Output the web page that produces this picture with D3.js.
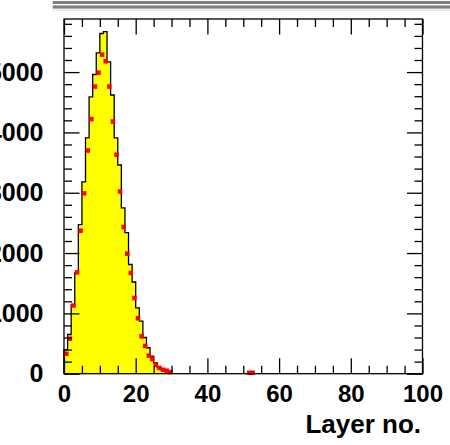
<!DOCTYPE html>
<html>
<head>
<meta charset="utf-8">
<script src="https://cdn.jsdelivr.net/npm/d3@7"></script>
<style>
  body { margin: 0; background: #fff; }
  svg { display: block; }
  .lab text { font-family: "Liberation Sans", Arial, sans-serif; font-weight: bold; fill: #000; }
</style>
</head>
<body>
<div class="wrapper"><svg width="450" height="445"></svg></div>
<script>
// histogram: one entry per bin, bins 0..29 (bins 30..99 are empty)
var histBins   = [0,1,2,3,4,5,6,7,8,9,10,11,12,13,14,15,16,17,18,19,20,21,22,23,24,25,26,27,28,29];
var histCounts = [400,650,1140,1670,2470,3180,3910,4590,4960,5320,5640,5670,5170,4620,3910,
                  3460,2750,2340,1810,1520,1090,870,600,430,290,180,100,65,40,25];

// red points (non-empty bins only)
var dataBins   = [0,1,2,3,4,5,6,7,8,9,10,11,12,13,14,15,16,17,18,19,20,21,22,23,24,25,26,27,28,29,51,52];
var dataCounts = [330,580,1130,1680,2370,2990,3700,4220,4760,4990,5290,5180,4760,4180,3630,
                  3020,2430,1990,1670,1255,920,620,460,300,245,150,95,66,50,28,15,15];

var xTickLabels = [0,20,40,60,80,100];
var yTickLabels = [0,1000,2000,3000,4000,5000];
var xTitle = "Layer no.";

/* frame (window.top is taken, so frame* names) */
var frameL = 64, frameR = 422.5, frameT = 19, frameB = 373.7;
var xMin = 0, xMax = 100, binWidth = 1, yMax = 5880;

var svg = d3.select('.wrapper').select('svg');

var x = d3.scaleLinear().domain([xMin, xMax]).range([frameL, frameR]);
var y = d3.scaleLinear().domain([0, yMax]).range([frameB, frameT]);

/* grey lines at the top (bottom of the box above) */
svg.append('rect').attr('x', 52.7).attr('y', 1).attr('width', 400).attr('height', 3).attr('fill', '#808080');
svg.append('rect').attr('x', 52.7).attr('y', 5.4).attr('width', 400).attr('height', 3.2).attr('fill', '#808080');
svg.append('rect').attr('x', 52.7).attr('y', 9.6).attr('width', 400).attr('height', 1).attr('fill', '#dadada');

/* histogram */
var pts = [[xMin, 0]];
for (var i = 0; i < histBins.length; i++) {
    pts.push([xMin + histBins[i] * binWidth, histCounts[i]]);
}
pts.push([xMin + (histBins[histBins.length - 1] + 1) * binWidth, 0]);

var area = d3.area().curve(d3.curveStepAfter)
    .x(function(d) { return x(d[0]); })
    .y0(y(0))
    .y1(function(d) { return y(d[1]); });
var line = d3.line().curve(d3.curveStepAfter)
    .x(function(d) { return x(d[0]); })
    .y(function(d) { return y(d[1]); });

svg.append('path').attr('d', area(pts)).attr('fill', '#ffff00');
svg.append('path').attr('d', line(pts)).attr('fill', 'none').attr('stroke', '#000').attr('stroke-width', 1.3);

/* points */
var ms = 4.5;
svg.selectAll('rect.pt').data(dataBins).enter().append('rect')
    .attr('class', 'pt')
    .attr('x', function(b) { return x(xMin + (b + 0.5) * binWidth) - ms / 2 + 0.5; })
    .attr('y', function(b, i) { return y(dataCounts[i]) - ms / 2; })
    .attr('width', ms).attr('height', ms)
    .attr('fill', '#ff0000');

/* axes, ticks pointing inwards */
var xMinor = d3.range(0, 101, 5).filter(function(v) { return v % 20 !== 0; });
var yMinor = d3.range(0, yMax, 200).filter(function(v) { return v % 1000 !== 0; });
var big = 15.5, small = 8;

function drawAxis(ax, tx, ty, labels) {
    var g = svg.append('g').attr('class', 'lab').attr('transform', 'translate(' + tx + ',' + ty + ')').call(ax);
    g.select('.domain').remove();
    g.selectAll('line').attr('stroke', '#000').attr('stroke-width', 1.3);
    if (!labels) g.selectAll('text').remove();
    return g;
}

var gb = drawAxis(d3.axisBottom(x).tickValues(xTickLabels).tickSize(-big).tickPadding(11).tickFormat(d3.format('d')), 0, frameB, true);
gb.selectAll('text').attr('font-size', 24);
drawAxis(d3.axisBottom(x).tickValues(xMinor).tickSize(-small), 0, frameB, false);
drawAxis(d3.axisTop(x).tickValues(xTickLabels).tickSize(-big), 0, frameT, false);
drawAxis(d3.axisTop(x).tickValues(xMinor).tickSize(-small), 0, frameT, false);

var gl = drawAxis(d3.axisLeft(y).tickValues(yTickLabels).tickSize(-big).tickPadding(20.5).tickFormat(d3.format('d')), frameL, 0, true);
gl.selectAll('text').attr('font-size', 25);
drawAxis(d3.axisLeft(y).tickValues(yMinor).tickSize(-small), frameL, 0, false);
drawAxis(d3.axisRight(y).tickValues(yTickLabels).tickSize(-big), frameR, 0, false);
drawAxis(d3.axisRight(y).tickValues(yMinor).tickSize(-small), frameR, 0, false);

/* frame */
svg.append('rect').attr('x', frameL).attr('y', frameT)
    .attr('width', frameR - frameL).attr('height', frameB - frameT)
    .attr('fill', 'none').attr('stroke', '#000').attr('stroke-width', 1.3);

/* axis title */
svg.append('g').attr('class', 'lab').append('text')
    .attr('x', 421).attr('y', 433)
    .attr('text-anchor', 'end')
    .attr('font-size', 26)
    .text(xTitle);
</script>
</body>
</html>
